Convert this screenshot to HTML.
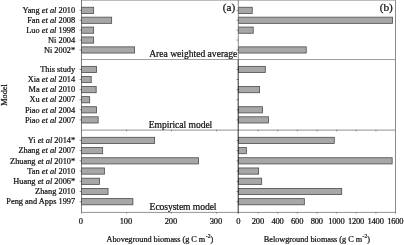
<!DOCTYPE html>
<html><head><meta charset="utf-8"><title>Biomass</title>
<style>
html,body{margin:0;padding:0;background:#fff}
svg text{font-family:"Liberation Serif","Times New Roman",serif;fill:#111;stroke:#111;stroke-width:0.22px}
.yl{font-size:8.35px}
.xl{font-size:8.5px;letter-spacing:-0.2px}
.pl{font-size:9.65px}
.ab{font-size:11.2px}
.xt{font-size:8.28px}
</style></head><body>
<svg width="404" height="245" viewBox="0 0 404 245" style="display:block">
<rect width="404" height="245" fill="#fff"/>
<rect x="81.5" y="7.25" width="12.15" height="6.2" fill="#a7a7a7" stroke="#4c4c4c" stroke-width="0.8"/>
<rect x="238.5" y="7.25" width="13.74" height="6.2" fill="#a7a7a7" stroke="#4c4c4c" stroke-width="0.8"/>
<line x1="79.6" x2="81.5" y1="10.35" y2="10.35" stroke="#5a5a5a" stroke-width="0.7"/>
<line x1="236.6" x2="238.5" y1="10.35" y2="10.35" stroke="#5a5a5a" stroke-width="0.7"/>
<text x="75.2" y="13.05" text-anchor="end" class="yl">Yang <tspan font-style="italic">et al</tspan> 2010</text>
<rect x="81.5" y="17.15" width="30.15" height="6.2" fill="#a7a7a7" stroke="#4c4c4c" stroke-width="0.8"/>
<rect x="238.5" y="17.15" width="154.06" height="6.2" fill="#a7a7a7" stroke="#4c4c4c" stroke-width="0.8"/>
<line x1="79.6" x2="81.5" y1="20.25" y2="20.25" stroke="#5a5a5a" stroke-width="0.7"/>
<line x1="236.6" x2="238.5" y1="20.25" y2="20.25" stroke="#5a5a5a" stroke-width="0.7"/>
<text x="75.2" y="22.95" text-anchor="end" class="yl">Fan <tspan font-style="italic">et al</tspan> 2008</text>
<rect x="81.5" y="27.05" width="12.15" height="6.2" fill="#a7a7a7" stroke="#4c4c4c" stroke-width="0.8"/>
<rect x="238.5" y="27.05" width="14.72" height="6.2" fill="#a7a7a7" stroke="#4c4c4c" stroke-width="0.8"/>
<line x1="79.6" x2="81.5" y1="30.15" y2="30.15" stroke="#5a5a5a" stroke-width="0.7"/>
<line x1="236.6" x2="238.5" y1="30.15" y2="30.15" stroke="#5a5a5a" stroke-width="0.7"/>
<text x="75.2" y="32.85" text-anchor="end" class="yl">Luo <tspan font-style="italic">et al</tspan> 1998</text>
<rect x="81.5" y="36.95" width="12.15" height="6.2" fill="#a7a7a7" stroke="#4c4c4c" stroke-width="0.8"/>
<line x1="79.6" x2="81.5" y1="40.05" y2="40.05" stroke="#5a5a5a" stroke-width="0.7"/>
<line x1="236.6" x2="238.5" y1="40.05" y2="40.05" stroke="#5a5a5a" stroke-width="0.7"/>
<text x="75.2" y="42.75" text-anchor="end" class="yl">Ni 2004</text>
<rect x="81.5" y="46.85" width="53.10" height="6.2" fill="#a7a7a7" stroke="#4c4c4c" stroke-width="0.8"/>
<rect x="238.5" y="46.85" width="67.71" height="6.2" fill="#a7a7a7" stroke="#4c4c4c" stroke-width="0.8"/>
<line x1="79.6" x2="81.5" y1="49.95" y2="49.95" stroke="#5a5a5a" stroke-width="0.7"/>
<line x1="236.6" x2="238.5" y1="49.95" y2="49.95" stroke="#5a5a5a" stroke-width="0.7"/>
<text x="75.2" y="52.65" text-anchor="end" class="yl">Ni 2002*</text>
<rect x="81.5" y="66.35" width="15.03" height="6.2" fill="#a7a7a7" stroke="#4c4c4c" stroke-width="0.8"/>
<rect x="238.5" y="66.35" width="26.79" height="6.2" fill="#a7a7a7" stroke="#4c4c4c" stroke-width="0.8"/>
<line x1="79.6" x2="81.5" y1="69.45" y2="69.45" stroke="#5a5a5a" stroke-width="0.7"/>
<line x1="236.6" x2="238.5" y1="69.45" y2="69.45" stroke="#5a5a5a" stroke-width="0.7"/>
<text x="75.2" y="72.15" text-anchor="end" class="yl">This study</text>
<rect x="81.5" y="76.44" width="9.72" height="6.2" fill="#a7a7a7" stroke="#4c4c4c" stroke-width="0.8"/>
<line x1="79.6" x2="81.5" y1="79.54" y2="79.54" stroke="#5a5a5a" stroke-width="0.7"/>
<line x1="236.6" x2="238.5" y1="79.54" y2="79.54" stroke="#5a5a5a" stroke-width="0.7"/>
<text x="75.2" y="82.24" text-anchor="end" class="yl">Xia <tspan font-style="italic">et al</tspan> 2014</text>
<rect x="81.5" y="86.53" width="14.67" height="6.2" fill="#a7a7a7" stroke="#4c4c4c" stroke-width="0.8"/>
<rect x="238.5" y="86.53" width="21.10" height="6.2" fill="#a7a7a7" stroke="#4c4c4c" stroke-width="0.8"/>
<line x1="79.6" x2="81.5" y1="89.63" y2="89.63" stroke="#5a5a5a" stroke-width="0.7"/>
<line x1="236.6" x2="238.5" y1="89.63" y2="89.63" stroke="#5a5a5a" stroke-width="0.7"/>
<text x="75.2" y="92.33" text-anchor="end" class="yl">Ma <tspan font-style="italic">et al</tspan> 2010</text>
<rect x="81.5" y="96.62" width="8.19" height="6.2" fill="#a7a7a7" stroke="#4c4c4c" stroke-width="0.8"/>
<line x1="79.6" x2="81.5" y1="99.72" y2="99.72" stroke="#5a5a5a" stroke-width="0.7"/>
<line x1="236.6" x2="238.5" y1="99.72" y2="99.72" stroke="#5a5a5a" stroke-width="0.7"/>
<text x="75.2" y="102.42" text-anchor="end" class="yl">Xu <tspan font-style="italic">et al</tspan> 2007</text>
<rect x="81.5" y="106.71" width="15.03" height="6.2" fill="#a7a7a7" stroke="#4c4c4c" stroke-width="0.8"/>
<rect x="238.5" y="106.71" width="24.04" height="6.2" fill="#a7a7a7" stroke="#4c4c4c" stroke-width="0.8"/>
<line x1="79.6" x2="81.5" y1="109.81" y2="109.81" stroke="#5a5a5a" stroke-width="0.7"/>
<line x1="236.6" x2="238.5" y1="109.81" y2="109.81" stroke="#5a5a5a" stroke-width="0.7"/>
<text x="75.2" y="112.51" text-anchor="end" class="yl">Piao <tspan font-style="italic">et al</tspan> 2004</text>
<rect x="81.5" y="116.80" width="16.65" height="6.2" fill="#a7a7a7" stroke="#4c4c4c" stroke-width="0.8"/>
<rect x="238.5" y="116.80" width="29.93" height="6.2" fill="#a7a7a7" stroke="#4c4c4c" stroke-width="0.8"/>
<line x1="79.6" x2="81.5" y1="119.90" y2="119.90" stroke="#5a5a5a" stroke-width="0.7"/>
<line x1="236.6" x2="238.5" y1="119.90" y2="119.90" stroke="#5a5a5a" stroke-width="0.7"/>
<text x="75.2" y="122.60" text-anchor="end" class="yl">Piao <tspan font-style="italic">et al</tspan> 2007</text>
<rect x="81.5" y="137.30" width="73.12" height="6.2" fill="#a7a7a7" stroke="#4c4c4c" stroke-width="0.8"/>
<rect x="238.5" y="137.30" width="95.77" height="6.2" fill="#a7a7a7" stroke="#4c4c4c" stroke-width="0.8"/>
<line x1="79.6" x2="81.5" y1="140.40" y2="140.40" stroke="#5a5a5a" stroke-width="0.7"/>
<line x1="236.6" x2="238.5" y1="140.40" y2="140.40" stroke="#5a5a5a" stroke-width="0.7"/>
<text x="75.2" y="143.10" text-anchor="end" class="yl">Yi <tspan font-style="italic">et al</tspan> 2014*</text>
<rect x="81.5" y="147.52" width="21.15" height="6.2" fill="#a7a7a7" stroke="#4c4c4c" stroke-width="0.8"/>
<rect x="238.5" y="147.52" width="7.85" height="6.2" fill="#a7a7a7" stroke="#4c4c4c" stroke-width="0.8"/>
<line x1="79.6" x2="81.5" y1="150.62" y2="150.62" stroke="#5a5a5a" stroke-width="0.7"/>
<line x1="236.6" x2="238.5" y1="150.62" y2="150.62" stroke="#5a5a5a" stroke-width="0.7"/>
<text x="75.2" y="153.32" text-anchor="end" class="yl">Zhang <tspan font-style="italic">et al</tspan> 2007</text>
<rect x="81.5" y="157.74" width="117.09" height="6.2" fill="#a7a7a7" stroke="#4c4c4c" stroke-width="0.8"/>
<rect x="238.5" y="157.74" width="153.66" height="6.2" fill="#a7a7a7" stroke="#4c4c4c" stroke-width="0.8"/>
<line x1="79.6" x2="81.5" y1="160.84" y2="160.84" stroke="#5a5a5a" stroke-width="0.7"/>
<line x1="236.6" x2="238.5" y1="160.84" y2="160.84" stroke="#5a5a5a" stroke-width="0.7"/>
<text x="75.2" y="163.54" text-anchor="end" class="yl">Zhuang <tspan font-style="italic">et al</tspan> 2010*</text>
<rect x="81.5" y="167.96" width="23.04" height="6.2" fill="#a7a7a7" stroke="#4c4c4c" stroke-width="0.8"/>
<rect x="238.5" y="167.96" width="20.12" height="6.2" fill="#a7a7a7" stroke="#4c4c4c" stroke-width="0.8"/>
<line x1="79.6" x2="81.5" y1="171.06" y2="171.06" stroke="#5a5a5a" stroke-width="0.7"/>
<line x1="236.6" x2="238.5" y1="171.06" y2="171.06" stroke="#5a5a5a" stroke-width="0.7"/>
<text x="75.2" y="173.76" text-anchor="end" class="yl">Tan <tspan font-style="italic">et al</tspan> 2010</text>
<rect x="81.5" y="178.18" width="18.09" height="6.2" fill="#a7a7a7" stroke="#4c4c4c" stroke-width="0.8"/>
<rect x="238.5" y="178.18" width="23.16" height="6.2" fill="#a7a7a7" stroke="#4c4c4c" stroke-width="0.8"/>
<line x1="79.6" x2="81.5" y1="181.28" y2="181.28" stroke="#5a5a5a" stroke-width="0.7"/>
<line x1="236.6" x2="238.5" y1="181.28" y2="181.28" stroke="#5a5a5a" stroke-width="0.7"/>
<text x="75.2" y="183.98" text-anchor="end" class="yl">Huang <tspan font-style="italic">et al</tspan> 2006*</text>
<rect x="81.5" y="188.40" width="26.55" height="6.2" fill="#a7a7a7" stroke="#4c4c4c" stroke-width="0.8"/>
<rect x="238.5" y="188.40" width="103.23" height="6.2" fill="#a7a7a7" stroke="#4c4c4c" stroke-width="0.8"/>
<line x1="79.6" x2="81.5" y1="191.50" y2="191.50" stroke="#5a5a5a" stroke-width="0.7"/>
<line x1="236.6" x2="238.5" y1="191.50" y2="191.50" stroke="#5a5a5a" stroke-width="0.7"/>
<text x="75.2" y="194.20" text-anchor="end" class="yl">Zhang 2010</text>
<rect x="81.5" y="198.62" width="51.39" height="6.2" fill="#a7a7a7" stroke="#4c4c4c" stroke-width="0.8"/>
<rect x="238.5" y="198.62" width="65.84" height="6.2" fill="#a7a7a7" stroke="#4c4c4c" stroke-width="0.8"/>
<line x1="79.6" x2="81.5" y1="201.72" y2="201.72" stroke="#5a5a5a" stroke-width="0.7"/>
<line x1="236.6" x2="238.5" y1="201.72" y2="201.72" stroke="#5a5a5a" stroke-width="0.7"/>
<text x="75.2" y="204.42" text-anchor="end" class="yl">Peng and Apps 1997</text>
<rect x="81.1" y="0" width="314.8" height="1" fill="#bcbcbc"/>
<line x1="81.5" x2="395.5" y1="59.5" y2="59.5" stroke="#777" stroke-width="0.7"/>
<line x1="81.5" x2="395.5" y1="130.1" y2="130.1" stroke="#929292" stroke-width="1.0"/>
<line x1="81.5" x2="395.5" y1="212.4" y2="212.4" stroke="#666" stroke-width="0.7"/>
<line x1="126.5" x2="126.5" y1="130.1" y2="131.2" stroke="#444" stroke-width="0.7"/>
<line x1="171.5" x2="171.5" y1="130.1" y2="131.2" stroke="#444" stroke-width="0.7"/>
<line x1="216.5" x2="216.5" y1="130.1" y2="131.2" stroke="#444" stroke-width="0.7"/>
<line x1="258.12" x2="258.12" y1="130.1" y2="131.2" stroke="#444" stroke-width="0.7"/>
<line x1="277.75" x2="277.75" y1="130.1" y2="131.2" stroke="#444" stroke-width="0.7"/>
<line x1="297.38" x2="297.38" y1="130.1" y2="131.2" stroke="#444" stroke-width="0.7"/>
<line x1="317.00" x2="317.00" y1="130.1" y2="131.2" stroke="#444" stroke-width="0.7"/>
<line x1="336.62" x2="336.62" y1="130.1" y2="131.2" stroke="#444" stroke-width="0.7"/>
<line x1="356.25" x2="356.25" y1="130.1" y2="131.2" stroke="#444" stroke-width="0.7"/>
<line x1="375.88" x2="375.88" y1="130.1" y2="131.2" stroke="#444" stroke-width="0.7"/>
<line x1="81.5" x2="81.5" y1="0" y2="212.4" stroke="#5a5a5a" stroke-width="0.8"/>
<line x1="238.3" x2="238.3" y1="0" y2="59.5" stroke="#707070" stroke-width="0.8"/>
<line x1="238.2" x2="238.2" y1="59.5" y2="213.4" stroke="#262626" stroke-width="0.95"/>
<line x1="395.5" x2="395.5" y1="0" y2="212.4" stroke="#7e7e7e" stroke-width="0.9"/>
<line x1="81.5" x2="81.5" y1="212.4" y2="213.6" stroke="#5a5a5a" stroke-width="0.7"/>
<text x="80.9" y="224.2" text-anchor="middle" class="xl">0</text>
<line x1="126.5" x2="126.5" y1="212.4" y2="213.6" stroke="#5a5a5a" stroke-width="0.7"/>
<text x="125.9" y="224.2" text-anchor="middle" class="xl">100</text>
<line x1="171.5" x2="171.5" y1="212.4" y2="213.6" stroke="#5a5a5a" stroke-width="0.7"/>
<text x="170.9" y="224.2" text-anchor="middle" class="xl">200</text>
<line x1="216.5" x2="216.5" y1="212.4" y2="213.6" stroke="#5a5a5a" stroke-width="0.7"/>
<text x="215.9" y="224.2" text-anchor="middle" class="xl">300</text>
<line x1="238.50" x2="238.50" y1="212.4" y2="213.6" stroke="#5a5a5a" stroke-width="0.7"/>
<text x="238.25" y="224.2" text-anchor="middle" class="xl">0</text>
<line x1="258.12" x2="258.12" y1="212.4" y2="213.6" stroke="#5a5a5a" stroke-width="0.7"/>
<text x="257.88" y="224.2" text-anchor="middle" class="xl">200</text>
<line x1="277.75" x2="277.75" y1="212.4" y2="213.6" stroke="#5a5a5a" stroke-width="0.7"/>
<text x="277.50" y="224.2" text-anchor="middle" class="xl">400</text>
<line x1="297.38" x2="297.38" y1="212.4" y2="213.6" stroke="#5a5a5a" stroke-width="0.7"/>
<text x="297.12" y="224.2" text-anchor="middle" class="xl">600</text>
<line x1="317.00" x2="317.00" y1="212.4" y2="213.6" stroke="#5a5a5a" stroke-width="0.7"/>
<text x="316.75" y="224.2" text-anchor="middle" class="xl">800</text>
<line x1="336.62" x2="336.62" y1="212.4" y2="213.6" stroke="#5a5a5a" stroke-width="0.7"/>
<text x="336.38" y="224.2" text-anchor="middle" class="xl">1000</text>
<line x1="356.25" x2="356.25" y1="212.4" y2="213.6" stroke="#5a5a5a" stroke-width="0.7"/>
<text x="356.00" y="224.2" text-anchor="middle" class="xl">1200</text>
<line x1="375.88" x2="375.88" y1="212.4" y2="213.6" stroke="#5a5a5a" stroke-width="0.7"/>
<text x="375.62" y="224.2" text-anchor="middle" class="xl">1400</text>
<line x1="395.50" x2="395.50" y1="212.4" y2="213.6" stroke="#5a5a5a" stroke-width="0.7"/>
<text x="395.25" y="224.2" text-anchor="middle" class="xl">1600</text>
<text x="149.2" y="56.5" class="pl" textLength="88.2">Area weighted average</text>
<text x="148.7" y="127.5" class="pl" textLength="63.6">Empirical model</text>
<text x="149.6" y="209.9" class="pl" textLength="66.9">Ecosystem model</text>
<text x="235.2" y="10.8" text-anchor="end" class="ab">(a)</text>
<text x="392.8" y="10.8" text-anchor="end" class="ab">(b)</text>
<text x="106.5" y="242.0" class="xt" textLength="98.8">Aboveground biomass (g C m</text>
<text x="205.80" y="237.6" class="xt" style="font-size:5.6px">-2</text>
<text x="210.50" y="242.0" class="xt">)</text>
<text x="263.8" y="242.0" class="xt" textLength="98.3">Belowground biomass (g C m</text>
<text x="362.60" y="237.6" class="xt" style="font-size:5.6px">-2</text>
<text x="367.30" y="242.0" class="xt">)</text>
<text transform="translate(7.2,95) rotate(-90)" text-anchor="middle" class="xt">Model</text>
</svg>
</body></html>
